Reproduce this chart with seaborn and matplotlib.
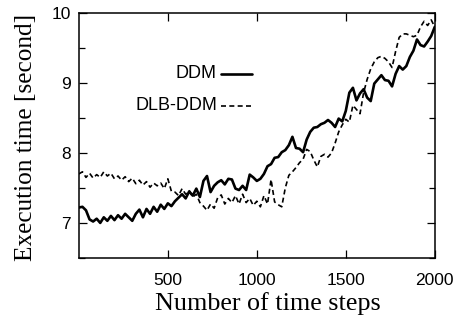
import numpy as np
import pandas as pd
import seaborn as sns
import matplotlib
matplotlib.use("Agg")
import matplotlib.pyplot as plt
from matplotlib.ticker import MultipleLocator

# time steps (every 20 steps)
steps = np.arange(0, 2001, 20)

ddm = [7.22, 7.23, 7.18, 7.05, 7.02, 7.06, 7.00, 7.08, 7.03, 7.10,
       7.04, 7.11, 7.06, 7.13, 7.08, 7.03, 7.13, 7.19, 7.08, 7.20,
       7.13, 7.23, 7.16, 7.26, 7.20, 7.28, 7.24, 7.31, 7.36, 7.41,
       7.35, 7.45, 7.39, 7.49, 7.37, 7.60, 7.67, 7.44, 7.53, 7.58,
       7.61, 7.55, 7.63, 7.62, 7.49, 7.47, 7.53, 7.47, 7.69, 7.65,
       7.60, 7.63, 7.70, 7.81, 7.84, 7.93, 7.94, 8.01, 8.04, 8.11,
       8.23, 8.07, 8.06, 8.01, 8.19, 8.30, 8.36, 8.37, 8.41, 8.43,
       8.47, 8.43, 8.37, 8.49, 8.45, 8.60, 8.86, 8.93, 8.75, 8.85,
       8.91, 8.79, 8.74, 8.99, 9.05, 9.11, 9.04, 9.03, 8.95, 9.13,
       9.24, 9.19, 9.24, 9.37, 9.46, 9.62, 9.54, 9.52, 9.59, 9.67,
       9.80]

dlb_ddm = [7.70, 7.73, 7.65, 7.71, 7.64, 7.69, 7.65, 7.73, 7.67, 7.71,
           7.63, 7.67, 7.61, 7.66, 7.59, 7.64, 7.56, 7.61, 7.54, 7.59,
           7.51, 7.57, 7.53, 7.57, 7.49, 7.63, 7.45, 7.44, 7.39, 7.49,
           7.41, 7.46, 7.37, 7.41, 7.29, 7.24, 7.18, 7.27, 7.21, 7.36,
           7.40, 7.27, 7.35, 7.29, 7.39, 7.27, 7.41, 7.29, 7.35, 7.25,
           7.31, 7.23, 7.39, 7.27, 7.62, 7.30, 7.26, 7.23, 7.50, 7.68,
           7.73, 7.79, 7.86, 7.91, 8.05, 8.02, 7.90, 7.80, 7.95, 7.98,
           7.94, 8.00, 8.14, 8.30, 8.40, 8.48, 8.44, 8.68, 8.62, 8.56,
           8.86, 9.05, 9.20, 9.30, 9.36, 9.38, 9.35, 9.30, 9.22, 9.45,
           9.65, 9.70, 9.70, 9.68, 9.66, 9.68, 9.80, 9.88, 9.82, 9.90,
           9.80]

x_ticks = [500, 1000, 1500, 2000]
y_ticks = [7, 8, 9, 10]

df = pd.DataFrame({"step": np.concatenate([steps, steps]),
                   "time": ddm + dlb_ddm,
                   "method": ["DDM"] * len(steps) + ["DLB-DDM"] * len(steps)})

sns.set_style("ticks")
plt.rcParams["font.family"] = ["Liberation Sans", "DejaVu Sans"]
plt.rcParams["text.color"] = "black"
plt.rcParams["axes.labelcolor"] = "black"

fig = plt.figure(figsize=(4.64, 3.22), dpi=100)
ax = fig.add_axes([0.170, 0.199, 0.767, 0.761])

sns.lineplot(data=df, x="step", y="time", hue="method", style="method",
             palette={"DDM": "black", "DLB-DDM": "black"},
             dashes={"DDM": "", "DLB-DDM": (3, 2)},
             size="method", sizes={"DDM": 1.9, "DLB-DDM": 1.2},
             legend=False, ax=ax)

ax.set_xlim(0, 2000)
ax.set_ylim(6.5, 10)
ax.set_xticks(x_ticks)
ax.set_yticks(y_ticks)
ax.yaxis.set_minor_locator(MultipleLocator(0.5))
ax.tick_params(which="both", direction="in", top=True, right=True,
               labelsize=12.5, width=0.9, colors="black")
ax.tick_params(axis="x", pad=11)
ax.tick_params(axis="y", pad=6)
ax.tick_params(which="major", length=6)
ax.tick_params(which="minor", length=4)
for s in ax.spines.values():
    s.set_linewidth(1.1)
    s.set_color("black")

ax.set_xlabel("Number of time steps", family="Liberation Serif", fontsize=18.8)
ax.set_ylabel("Execution time [second]", family="Liberation Serif", fontsize=18.2)
ax.xaxis.set_label_coords(0.53, -0.14, transform=ax.transAxes)
ax.xaxis.label.set_va("top")
ax.yaxis.set_label_coords(-0.148, 0.49, transform=ax.transAxes)
ax.yaxis.label.set_va("center")

# gnuplot-style key: label on the left, sample line on the right
ax.text(0.388, 0.751, "DDM", transform=ax.transAxes, ha="right", va="center", fontsize=13)
ax.plot([0.40, 0.486], [0.751, 0.751], transform=ax.transAxes, color="black", lw=1.9)
ax.text(0.388, 0.620, "DLB-DDM", transform=ax.transAxes, ha="right", va="center", fontsize=13)
ax.plot([0.40, 0.486], [0.620, 0.620], transform=ax.transAxes, color="black", lw=1.2,
        dashes=(3, 2))

fig.savefig("out.png", dpi=100)
